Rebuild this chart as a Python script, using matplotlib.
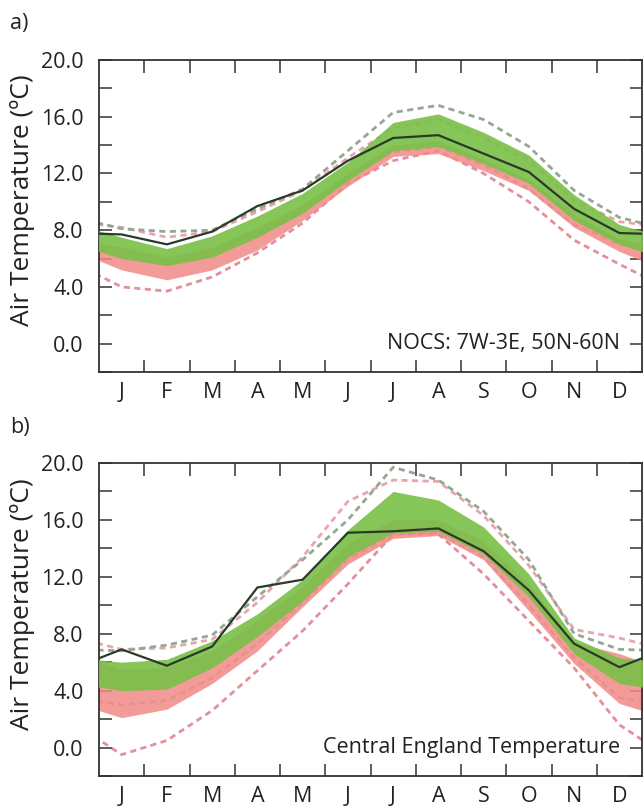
import numpy as np
import matplotlib
matplotlib.use("Agg")
import matplotlib.pyplot as plt
from matplotlib.ticker import FixedLocator, NullFormatter

plt.rcParams['font.family'] = ['Open Sans', 'DejaVu Sans']

months = ['J', 'F', 'M', 'A', 'M', 'J', 'J', 'A', 'S', 'O', 'N', 'D']

# panel a: NOCS 7W-3E, 50N-60N
obs_a = [7.7, 7.0, 7.9, 9.7, 10.8, 12.9, 14.5, 14.7, 13.4, 12.1, 9.5, 7.8]
green_hi_a = [7.5, 6.7, 7.6, 9.0, 10.6, 12.8, 15.6, 16.2, 14.9, 13.3, 10.5, 8.4]
green_lo_a = [6.0, 5.5, 6.1, 7.5, 9.2, 11.5, 13.6, 13.9, 12.7, 11.3, 8.7, 7.0]
red_hi_a = [6.8, 6.1, 6.8, 8.2, 9.8, 12.0, 14.0, 14.3, 13.0, 11.6, 9.1, 7.4]
red_lo_a = [5.2, 4.5, 5.2, 6.6, 8.7, 11.1, 13.2, 13.4, 12.2, 10.8, 8.2, 6.5]
gmax_a = [8.1, 7.9, 8.0, 9.5, 10.9, 13.6, 16.3, 16.8, 15.8, 13.9, 10.8, 8.9]
gmin_a = [6.3, 5.7, 6.2, 7.6, 9.3, 11.7, 13.5, 13.9, 12.6, 10.9, 8.4, 7.0]
rmax_a = [8.2, 7.5, 7.9, 9.3, 10.8, 13.1, 15.2, 15.8, 14.5, 12.9, 10.1, 8.6]
rmin_a = [4.0, 3.7, 4.7, 6.4, 8.5, 11.3, 12.9, 13.6, 12.0, 10.0, 7.3, 5.6]

# panel b: Central England Temperature
obs_b = [6.9, 5.75, 7.1, 11.25, 11.8, 15.1, 15.2, 15.4, 13.8, 11.05, 7.3, 5.65]
green_hi_b = [6.0, 6.2, 7.5, 9.4, 11.8, 15.3, 18.0, 17.4, 15.5, 12.2, 7.7, 6.3]
green_lo_b = [4.0, 4.1, 5.6, 7.8, 10.3, 13.4, 15.1, 15.2, 13.6, 10.6, 6.6, 4.5]
red_hi_b = [5.5, 5.6, 6.8, 9.0, 11.3, 14.4, 16.0, 16.0, 14.5, 11.5, 7.4, 6.6]
red_lo_b = [2.1, 2.7, 4.5, 6.8, 9.9, 12.9, 14.7, 14.9, 13.2, 9.6, 5.9, 3.1]
gmax_b = [6.8, 7.2, 7.9, 10.6, 13.2, 16.0, 19.7, 18.8, 16.6, 13.2, 8.0, 6.9]
gmin_b = [3.0, 3.3, 4.9, 7.3, 10.2, 13.2, 15.0, 15.1, 13.4, 10.0, 6.3, 3.5]
rmax_b = [6.9, 7.0, 7.6, 10.2, 13.4, 17.3, 18.8, 18.7, 16.3, 12.8, 8.3, 7.7]
rmin_b = [-0.5, 0.5, 2.6, 5.4, 8.2, 11.5, 15.0, 15.0, 12.2, 8.9, 5.6, 1.6]

GREEN = '#7cc04a'
RED = '#f28a86'
GDASH = '#95a792'
RDASH = '#e38f9c'
OBS = '#2a3a2a'
INK = '#222222'


def wrap(v):
    # annual cycle: Dec before Jan, Jan after Dec
    v = list(v)
    return [v[-1]] + v + [v[0]]


x = np.arange(0, 14)


def draw_panel(ax, obs, ghi, glo, rhi, rlo, gmax, gmin, rmax, rmin, title):
    dash = dict(lw=2.0, dashes=(2.2, 1.6), zorder=1)
    ax.plot(x, wrap(gmin), color=GDASH, alpha=0.8, **dash)
    ax.plot(x, wrap(rmax), color=RDASH, alpha=0.8, **dash)
    ax.fill_between(x, wrap(rlo), wrap(rhi), color=RED, alpha=0.85, lw=0, zorder=2)
    ax.fill_between(x, wrap(glo), wrap(ghi), color=GREEN, alpha=0.92, lw=0, zorder=3)
    ax.plot(x, wrap(gmax), color=GDASH, **dash)
    ax.plot(x, wrap(rmin), color=RDASH, **dash)
    ax.plot(x, wrap(obs), color=OBS, lw=1.6, zorder=5)

    ax.set_xlim(0.5, 12.5)
    ax.set_ylim(-2, 20)

    ax.yaxis.set_major_locator(FixedLocator(np.arange(0, 21, 4)))
    ax.yaxis.set_minor_locator(FixedLocator(np.arange(-2, 21, 4)))
    ax.set_yticklabels(['%.1f' % v for v in np.arange(0, 21, 4)])
    ax.xaxis.set_major_locator(FixedLocator(np.arange(1.5, 12, 1)))
    ax.xaxis.set_major_formatter(NullFormatter())
    ax.xaxis.set_minor_locator(FixedLocator(np.arange(1, 13)))
    ax.set_xticklabels(months, minor=True)

    ax.tick_params(which='both', direction='in', length=9, width=1.1,
                   color='#333333', top=True, right=True, labelsize=15.5,
                   labelcolor=INK)
    ax.tick_params(axis='y', which='both', pad=11)
    ax.tick_params(axis='x', which='minor', length=0, pad=7, labelsize=15.5)
    for s in ax.spines.values():
        s.set_color('#333333')
        s.set_linewidth(1.3)

    ax.set_ylabel('Air Temperature (ºC)', fontsize=19, color=INK)
    ax.yaxis.set_label_coords(-0.118, 0.55)
    ax.text(0.96, 0.0, title, transform=ax.get_yaxis_transform(),
            ha='right', va='center', fontsize=15.5, color=INK, zorder=6)
    ax.patch.set_alpha(0)


fig = plt.figure(figsize=(6.43, 8.09), dpi=100)
ax_a = fig.add_axes([99 / 643, 1 - 372 / 809, 543 / 643, 312 / 809])
ax_b = fig.add_axes([99 / 643, 1 - 776 / 809, 543 / 643, 313 / 809])

draw_panel(ax_a, obs_a, green_hi_a, green_lo_a, red_hi_a, red_lo_a,
           gmax_a, gmin_a, rmax_a, rmin_a, 'NOCS: 7W-3E, 50N-60N')
draw_panel(ax_b, obs_b, green_hi_b, green_lo_b, red_hi_b, red_lo_b,
           gmax_b, gmin_b, rmax_b, rmin_b, 'Central England Temperature')

fig.text(10 / 643, 1 - 23 / 809, 'a)', fontsize=15.5, va='center', color=INK)
fig.text(10 / 643, 1 - 428 / 809, 'b)', fontsize=15.5, va='center', color=INK)

fig.savefig('out.png', dpi=100)
